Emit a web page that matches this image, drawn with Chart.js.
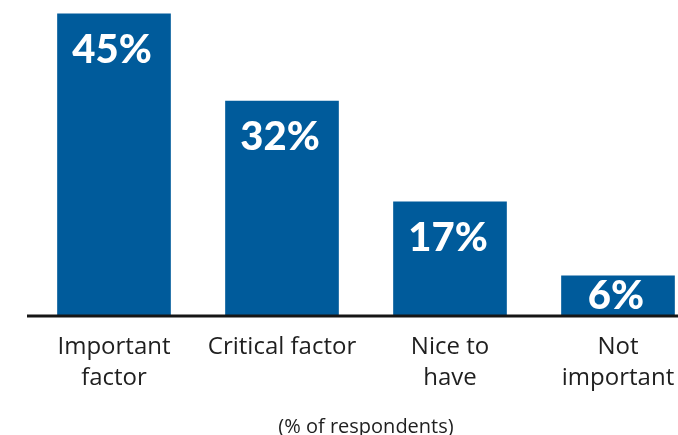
<!DOCTYPE html>
<html>
<head>
<meta charset="utf-8">
<script src="https://cdn.jsdelivr.net/npm/chart.js@4"></script>
<style>
  html, body { margin: 0; padding: 0; background: #ffffff; overflow: hidden; }
  #wrap { width: 678px; height: 435px; }
</style>
</head>
<body>
<div id="wrap"><canvas id="c" width="678" height="435"></canvas></div>
<script>
const categories = [["Important", "factor"], ["Critical factor"], ["Nice to", "have"], ["Not", "important"]];
const shares = [45, 32, 17, 6];
const valueLabels = ["45%", "32%", "17%", "6%"];
const axisTitle = "(% of respondents)";

const barColor = "#005b9b";
const textColor = "#1f1f1f";
const fontFamily = "'Open Sans', Lato, sans-serif";
const valueFont = "900 40px Lato, 'Open Sans', sans-serif";

const baselinePlugin = {
  id: "baseline",
  afterDatasetsDraw(chart) {
    const ctx = chart.ctx;
    const y = chart.scales.y.getPixelForValue(0);
    ctx.save();
    ctx.strokeStyle = "#161616";
    ctx.lineWidth = 3;
    ctx.beginPath();
    ctx.moveTo(27, y);
    ctx.lineTo(chart.width, y);
    ctx.stroke();
    ctx.restore();
  }
};

const valueLabelPlugin = {
  id: "valueLabels",
  afterDatasetsDraw(chart) {
    const ctx = chart.ctx;
    const meta = chart.getDatasetMeta(0);
    ctx.save();
    ctx.fillStyle = "#ffffff";
    ctx.font = valueFont;
    ctx.textAlign = "center";
    ctx.textBaseline = "middle";
    meta.data.forEach((bar, i) => {
      const y = Math.min(bar.y + 36, bar.base - 20);
      ctx.fillText(valueLabels[i], bar.x - 2, y);
    });
    ctx.restore();
  }
};

new Chart(document.getElementById("c"), {
  type: "bar",
  data: {
    labels: categories,
    datasets: [{
      data: shares,
      backgroundColor: barColor,
      borderWidth: 0,
      barThickness: 113,
      clip: false
    }]
  },
  options: {
    responsive: false,
    animation: false,
    events: [],
    layout: { padding: { left: 114, right: 60, top: 7, bottom: 0 } },
    plugins: {
      legend: { display: false },
      tooltip: { enabled: false }
    },
    scales: {
      x: {
        offset: false,
        afterFit(scale) { scale.paddingLeft = 0; scale.paddingRight = 0; },
        grid: { display: false, drawTicks: false },
        border: { display: false },
        ticks: {
          color: textColor,
          padding: 16,
          maxRotation: 0,
          autoSkip: false,
          font: { family: fontFamily, size: 24, lineHeight: 1.29 }
        },
        title: {
          display: true,
          text: axisTitle,
          color: textColor,
          padding: { top: 5, bottom: -4 },
          font: { family: fontFamily, size: 20, lineHeight: 1.2 }
        }
      },
      y: {
        display: false,
        min: 0,
        max: 46,
        grid: { display: false }
      }
    }
  },
  plugins: [baselinePlugin, valueLabelPlugin]
});
</script>
</body>
</html>
